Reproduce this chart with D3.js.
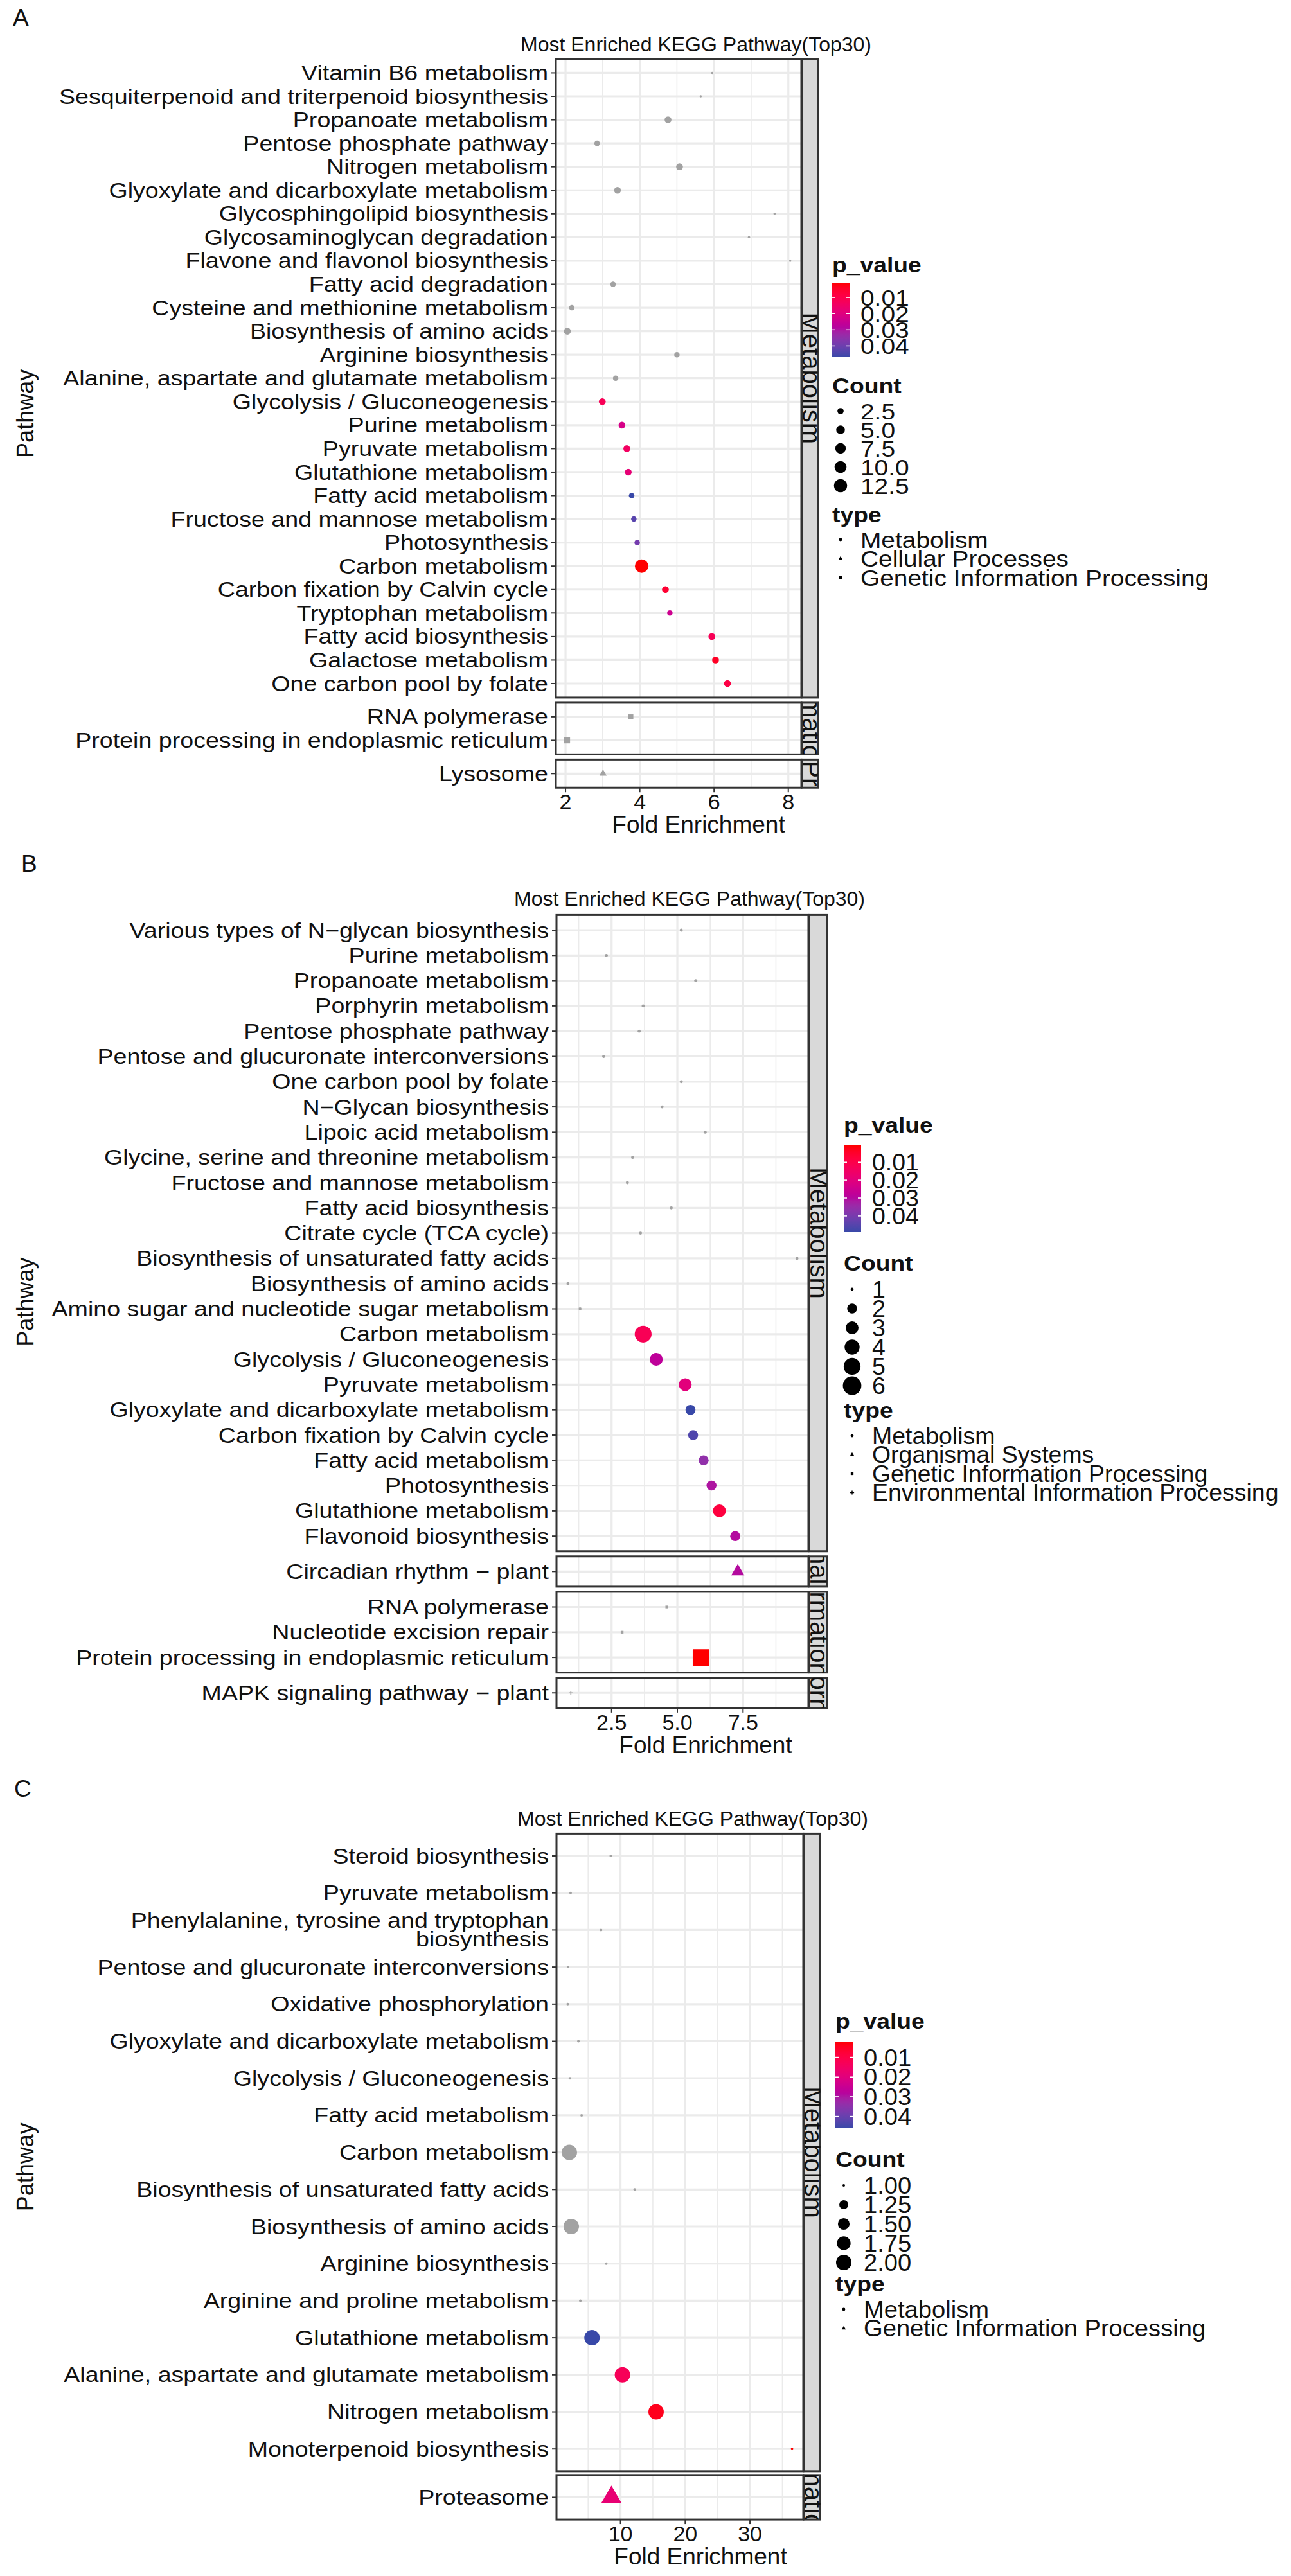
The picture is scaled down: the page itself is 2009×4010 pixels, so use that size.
<!DOCTYPE html>
<html><head><meta charset="utf-8">
<script src="https://cdn.jsdelivr.net/npm/d3@7"></script>
<style>
body{margin:0;background:#fff}
svg{display:block}
text{font-family:"Liberation Sans",Arial,Helvetica,sans-serif;fill:#111}
</style>
</head><body>
<svg id="c" width="2009" height="4010"></svg>
<script>
// ================= DATA =================
const chartTitle = "Most Enriched KEGG Pathway(Top30)";

// ---- Panel A ----
const A_pathways = ["Vitamin B6 metabolism","Sesquiterpenoid and triterpenoid biosynthesis","Propanoate metabolism","Pentose phosphate pathway","Nitrogen metabolism","Glyoxylate and dicarboxylate metabolism","Glycosphingolipid biosynthesis","Glycosaminoglycan degradation","Flavone and flavonol biosynthesis","Fatty acid degradation","Cysteine and methionine metabolism","Biosynthesis of amino acids","Arginine biosynthesis","Alanine, aspartate and glutamate metabolism","Glycolysis / Gluconeogenesis","Purine metabolism","Pyruvate metabolism","Glutathione metabolism","Fatty acid metabolism","Fructose and mannose metabolism","Photosynthesis","Carbon metabolism","Carbon fixation by Calvin cycle","Tryptophan metabolism","Fatty acid biosynthesis","Galactose metabolism","One carbon pool by folate","RNA polymerase","Protein processing in endoplasmic reticulum","Lysosome"];
const A_fold = [5.95,5.64,4.76,2.85,5.07,3.4,7.63,6.94,8.05,3.28,2.17,2.05,5.0,3.35,2.99,3.52,3.65,3.69,3.78,3.84,3.93,4.05,4.69,4.81,5.94,6.04,6.36,3.76,2.04,3.01];
const A_count = [1,1,3,2,3,3,1,1,1,2,2,3,2,2,3,3,3,3,2,2,2,13,3,2,3,3,3,2,3,2];
const A_pvalue = [null,null,null,null,null,null,null,null,null,null,null,null,null,null,0.012,0.022,0.014,0.018,0.047,0.043,0.039,0.0008,0.006,0.024,0.012,0.004,0.009,null,null,null];
const A_type = Array(27).fill("Metabolism").concat(["Genetic Information Processing","Genetic Information Processing","Cellular Processes"]);
const A_facets = ["Metabolism","Genetic Information Processing","Cellular Processes"];
const A_typeLevels = ["Metabolism","Cellular Processes","Genetic Information Processing"];
const A_xticks = [2,4,6,8];
const A_countBreaks = [2.5,5,7.5,10,12.5];

// ---- Panel B ----
const B_pathways = ["Various types of N\u2212glycan biosynthesis","Purine metabolism","Propanoate metabolism","Porphyrin metabolism","Pentose phosphate pathway","Pentose and glucuronate interconversions","One carbon pool by folate","N\u2212Glycan biosynthesis","Lipoic acid metabolism","Glycine, serine and threonine metabolism","Fructose and mannose metabolism","Fatty acid biosynthesis","Citrate cycle (TCA cycle)","Biosynthesis of unsaturated fatty acids","Biosynthesis of amino acids","Amino sugar and nucleotide sugar metabolism","Carbon metabolism","Glycolysis / Gluconeogenesis","Pyruvate metabolism","Glyoxylate and dicarboxylate metabolism","Carbon fixation by Calvin cycle","Fatty acid metabolism","Photosynthesis","Glutathione metabolism","Flavonoid biosynthesis","Circadian rhythm \u2212 plant","RNA polymerase","Nucleotide excision repair","Protein processing in endoplasmic reticulum","MAPK signaling pathway \u2212 plant"];
const B_fold = [5.15,2.3,5.7,3.7,3.55,2.2,5.15,4.42,6.06,3.3,3.1,4.77,3.6,9.55,0.84,1.3,3.7,4.2,5.3,5.5,5.6,6.0,6.3,6.6,7.2,7.3,4.6,2.9,5.9,0.95];
const B_count = [1,1,1,1,1,1,1,1,1,1,1,1,1,1,1,1,5,3,3,2,2,2,2,3,2,2,1,1,6,1];
const B_pvalue = [null,null,null,null,null,null,null,null,null,null,null,null,null,null,null,null,0.012,0.028,0.02,0.049,0.046,0.036,0.031,0.008,0.03,0.03,null,null,0.0006,null];
const B_type = Array(25).fill("Metabolism").concat(["Organismal Systems","Genetic Information Processing","Genetic Information Processing","Genetic Information Processing","Environmental Information Processing"]);
const B_facets = ["Metabolism","Organismal Systems","Genetic Information Processing","Environmental Information Processing"];
const B_typeLevels = ["Metabolism","Organismal Systems","Genetic Information Processing","Environmental Information Processing"];
const B_xticks = [2.5,5,7.5];
const B_countBreaks = [1,2,3,4,5,6];

// ---- Panel C ----
const C_pathways = ["Steroid biosynthesis","Pyruvate metabolism","Phenylalanine, tyrosine and tryptophan biosynthesis","Pentose and glucuronate interconversions","Oxidative phosphorylation","Glyoxylate and dicarboxylate metabolism","Glycolysis / Gluconeogenesis","Fatty acid metabolism","Carbon metabolism","Biosynthesis of unsaturated fatty acids","Biosynthesis of amino acids","Arginine biosynthesis","Arginine and proline metabolism","Glutathione metabolism","Alanine, aspartate and glutamate metabolism","Nitrogen metabolism","Monoterpenoid biosynthesis","Proteasome"];
const C_fold = [8.5,2.3,7.0,1.9,1.85,3.5,2.2,4.0,2.1,12.2,2.4,7.8,3.8,5.6,10.3,15.5,36.5,8.6];
const C_count = [1,1,1,1,1,1,1,1,2,1,2,1,1,2,2,2,1,2];
const C_pvalue = [null,null,null,null,null,null,null,null,null,null,null,null,null,0.046,0.013,0.004,0.002,0.018];
const C_type = Array(17).fill("Metabolism").concat(["Genetic Information Processing"]);
const C_facets = ["Metabolism","Genetic Information Processing"];
const C_typeLevels = ["Metabolism","Genetic Information Processing"];
const C_xticks = [10,20,30];
const C_countBreaks = [1,1.25,1.5,1.75,2];

const pBreaks = [0.01,0.02,0.03,0.04];

// ================= DRAWING =================
const svg = d3.select("#c");
svg.append("rect").attr("width",2009).attr("height",4010).attr("fill","#fff");
const defs = svg.append("defs");
const NA_COLOR = "#a2a2a2";
const GRID = "#ebebeb";
const DARK = "#333333";

function wrapLabel(s, width){
  if (s.length <= width) return [s];
  const words = s.split(" "); const lines = []; let cur = "";
  for (const w of words){
    if (cur && (cur + " " + w).length > width){ lines.push(cur); cur = w; }
    else cur = cur ? cur + " " + w : w;
  }
  if (cur) lines.push(cur);
  return lines;
}
function shapePath(idx, r){
  if (idx === 0) return d3.symbol(d3.symbolCircle, Math.PI*r*r)();
  if (idx === 1) return d3.symbol(d3.symbolTriangle, 3.0*r*r)();
  if (idx === 2) return d3.symbol(d3.symbolSquare, 3.2*r*r)();
  const s = r*1.3; return `M${-s},0H${s}M0,${-s}V${s}`;
}

function drawFigure(cfg, id){
  const g = svg.append("g");
  g.append("text").attr("x",cfg.letterX).attr("y",cfg.letterY).attr("font-size",37).text(cfg.letter);
  g.append("text").attr("x",cfg.titleX).attr("y",cfg.titleY).attr("font-size",32).text(chartTitle);

  // facets (free y space)
  let top = cfg.panelTop;
  const facets = cfg.facets.map(f=>{
    const rows = cfg.pathways.filter((p,i)=>cfg.type[i]===f);
    const h = (rows.length - 1 + 1.2) * cfg.rowStep;
    const y = d3.scalePoint().domain(rows).range([top, top+h]).padding(0.6);
    const o = {name:f, rows, top, bottom: top+h, y};
    top += h + cfg.facetGap;
    return o;
  });
  const bottom = facets[facets.length-1].bottom;

  const ext = d3.extent(cfg.fold); const pad = (ext[1]-ext[0])*0.05;
  const x = d3.scaleLinear().domain([ext[0]-pad, ext[1]+pad]).range([cfg.panelLeft, cfg.panelRight]);
  const dom = x.domain();
  const step = cfg.xticks[1]-cfg.xticks[0];
  const minor = [cfg.xticks[0]-step/2].concat(cfg.xticks.map(t=>t+step/2)).filter(v=>v>dom[0]&&v<dom[1]);

  const pVals = cfg.pvalue.filter(v=>v!==null);
  const pDom = d3.extent(pVals);
  const color = d3.scaleLinear().domain(pDom).range(["#ff0000","#3848a8"]).interpolate(d3.interpolateHcl);
  const cExt = d3.extent(cfg.count);
  const size = d3.scaleSqrt().domain([0, cExt[1]-cExt[0]]).range([cfg.k, 6*cfg.k]);
  const rOf = c => size(Math.max(0, c - cExt[0]));
  const typeIdx = t => cfg.typeLevels.indexOf(t);

  facets.forEach((f,fi)=>{
    const pg = g.append("g");
    pg.append("rect").attr("x",cfg.panelLeft).attr("y",f.top).attr("width",cfg.panelRight-cfg.panelLeft).attr("height",f.bottom-f.top).attr("fill","#fff");
    pg.selectAll(null).data(minor).join("line")
      .attr("x1",d=>x(d)).attr("x2",d=>x(d)).attr("y1",f.top).attr("y2",f.bottom)
      .attr("stroke",GRID).attr("stroke-width",1.6);
    pg.selectAll(null).data(cfg.xticks).join("line")
      .attr("x1",d=>x(d)).attr("x2",d=>x(d)).attr("y1",f.top).attr("y2",f.bottom)
      .attr("stroke",GRID).attr("stroke-width",3.2);
    pg.selectAll(null).data(f.rows).join("line")
      .attr("x1",cfg.panelLeft).attr("x2",cfg.panelRight).attr("y1",d=>f.y(d)).attr("y2",d=>f.y(d))
      .attr("stroke",GRID).attr("stroke-width",3.2);
    // points
    const pts = cfg.pathways.map((p,i)=>({p, v:cfg.fold[i], c:cfg.count[i], pv:cfg.pvalue[i], t:cfg.type[i]})).filter(d=>d.t===f.name);
    pts.forEach(d=>{
      const si = typeIdx(d.t); const col = d.pv===null ? NA_COLOR : color(d.pv);
      const path = pg.append("path").attr("d", shapePath(si, rOf(d.c)))
        .attr("transform",`translate(${x(d.v)},${f.y(d.p)})`);
      if (si===3) path.attr("fill","none").attr("stroke",col).attr("stroke-width",1.6);
      else path.attr("fill",col);
    });
    // border
    pg.append("rect").attr("x",cfg.panelLeft).attr("y",f.top).attr("width",cfg.panelRight-cfg.panelLeft).attr("height",f.bottom-f.top)
      .attr("fill","none").attr("stroke",DARK).attr("stroke-width",3);
    // strip (text larger than strip, clipped as in the original)
    const sx = cfg.panelRight+1.5, sw = cfg.stripW;
    const cid = `clip_${id}_${fi}`;
    defs.append("clipPath").attr("id",cid).append("rect").attr("x",sx).attr("y",f.top).attr("width",sw).attr("height",f.bottom-f.top);
    pg.append("rect").attr("x",sx).attr("y",f.top).attr("width",sw).attr("height",f.bottom-f.top).attr("fill","#d9d9d9").attr("stroke",DARK).attr("stroke-width",3);
    pg.append("g").attr("clip-path",`url(#${cid})`).append("text")
      .attr("transform",`translate(${sx+sw/2},${(f.top+f.bottom)/2}) rotate(90)`)
      .attr("text-anchor","middle").attr("dy","0.3em").attr("font-size",40).attr("fill","#1a1a1a").text(f.name);
    // y labels + ticks
    f.rows.forEach(r=>{
      const yy = f.y(r);
      pg.append("line").attr("x1",cfg.panelLeft-7).attr("x2",cfg.panelLeft).attr("y1",yy).attr("y2",yy).attr("stroke",DARK).attr("stroke-width",2);
      const lines = wrapLabel(r, 50);
      lines.forEach((ln,li)=>{
        const off = (li - (lines.length-1)/2) * 29;
        pg.append("text").attr("transform",`translate(${cfg.panelLeft-12},${yy+off}) scale(1.14,1)`)
          .attr("text-anchor","end").attr("dy","0.35em").attr("font-size",33).text(ln);
      });
    });
  });

  // x axis
  cfg.xticks.forEach(t=>{
    g.append("line").attr("x1",x(t)).attr("x2",x(t)).attr("y1",bottom).attr("y2",bottom+7).attr("stroke",DARK).attr("stroke-width",2);
    g.append("text").attr("x",x(t)).attr("y",bottom+34).attr("text-anchor","middle").attr("font-size",34).text(cfg.xfmt(t));
  });
  g.append("text").attr("x",cfg.xTitleX).attr("y",bottom+70).attr("text-anchor","middle").attr("font-size",37).text("Fold Enrichment");
  g.append("text").attr("transform",`translate(${cfg.yTitleX},${(cfg.panelTop+bottom)/2-15}) rotate(-90)`)
    .attr("text-anchor","middle").attr("font-size",36).text("Pathway");

  // legend
  const L = cfg.legend; const lx = L.x; const ls = L.labelScale;
  const ltitle = (y,t)=> g.append("text").attr("transform",`translate(${lx},${y}) scale(1.13,1)`)
      .attr("font-family","'Liberation Serif','Times New Roman',serif").attr("font-weight","bold").attr("font-size",33).text(t);
  const llabel = (y,t)=> g.append("text").attr("transform",`translate(${lx+44},${y}) scale(${ls},1)`)
      .attr("dy","0.36em").attr("font-size",36).text(t);
  ltitle(L.titleY,"p_value");
  const gid = `grad_${id}`;
  const grad = defs.append("linearGradient").attr("id",gid).attr("x1",0).attr("x2",0).attr("y1",0).attr("y2",1);
  d3.range(0,1.0001,0.05).forEach(t=>{
    grad.append("stop").attr("offset",t).attr("stop-color",color(pDom[0]+t*(pDom[1]-pDom[0])));
  });
  g.append("rect").attr("x",lx).attr("y",L.barTop).attr("width",27).attr("height",L.barBottom-L.barTop).attr("fill",`url(#${gid})`);
  const by = d3.scaleLinear().domain(pDom).range([L.barTop,L.barBottom]);
  pBreaks.filter(b=>b>=pDom[0]&&b<=pDom[1]).forEach(b=>{
    g.append("line").attr("x1",lx).attr("x2",lx+5).attr("y1",by(b)).attr("y2",by(b)).attr("stroke","#fff").attr("stroke-width",1.5);
    g.append("line").attr("x1",lx+22).attr("x2",lx+27).attr("y1",by(b)).attr("y2",by(b)).attr("stroke","#fff").attr("stroke-width",1.5);
    llabel(by(b), b.toFixed(2));
  });
  ltitle(L.countTitleY,"Count");
  cfg.countBreaks.forEach((c,i)=>{
    const yy = L.countY0 + i*L.countStep;
    g.append("path").attr("d",shapePath(0, rOf(c))).attr("transform",`translate(${lx+13},${yy})`).attr("fill","#000");
    llabel(yy, cfg.cfmt(c));
  });
  ltitle(L.typeTitleY,"type");
  cfg.typeLevels.forEach((t,i)=>{
    const yy = L.typeY0 + i*L.typeStep;
    const p = g.append("path").attr("d",shapePath(i, 2.4)).attr("transform",`translate(${lx+13},${yy})`);
    if (i===3) p.attr("fill","none").attr("stroke","#000").attr("stroke-width",1.5); else p.attr("fill","#000");
    llabel(yy, t);
  });
}

drawFigure({
  letter:"A", letterX:20, letterY:40, titleX:810, titleY:80,
  pathways:A_pathways, fold:A_fold, count:A_count, pvalue:A_pvalue, type:A_type,
  facets:A_facets, typeLevels:A_typeLevels, xticks:A_xticks, xfmt:d=>String(d),
  countBreaks:A_countBreaks, cfmt:d=>d.toFixed(1), k:1.75,
  panelLeft:865, panelRight:1247, stripW:24, panelTop:91.5, rowStep:36.56, facetGap:8,
  xTitleX:1087, yTitleX:52,
  legend:{x:1295, labelScale:1.08, titleY:424, barTop:440, barBottom:556, countTitleY:612, countY0:640, countStep:29, typeTitleY:813, typeY0:840, typeStep:29.5}
}, "A");

drawFigure({
  letter:"B", letterX:33, letterY:1357, titleX:800, titleY:1410,
  pathways:B_pathways, fold:B_fold, count:B_count, pvalue:B_pvalue, type:B_type,
  facets:B_facets, typeLevels:B_typeLevels, xticks:B_xticks, xfmt:d=>d.toFixed(1),
  countBreaks:B_countBreaks, cfmt:d=>String(d), k:2.4,
  panelLeft:866, panelRight:1258, stripW:27, panelTop:1424.4, rowStep:39.3, facetGap:8,
  xTitleX:1098, yTitleX:52,
  legend:{x:1313, labelScale:1.04, titleY:1763, barTop:1783, barBottom:1918, countTitleY:1978, countY0:2007, countStep:30, typeTitleY:2207, typeY0:2235, typeStep:29.5}
}, "B");

drawFigure({
  letter:"C", letterX:22, letterY:2797, titleX:805, titleY:2842,
  pathways:C_pathways, fold:C_fold, count:C_count, pvalue:C_pvalue, type:C_type,
  facets:C_facets, typeLevels:C_typeLevels, xticks:C_xticks, xfmt:d=>String(d),
  countBreaks:C_countBreaks, cfmt:d=>d.toFixed(2), k:2.0,
  panelLeft:866, panelRight:1250, stripW:25, panelTop:2854.4, rowStep:57.7, facetGap:6,
  xTitleX:1090, yTitleX:52,
  legend:{x:1300, labelScale:1.06, titleY:3158, barTop:3178, barBottom:3313, countTitleY:3373, countY0:3402, countStep:30, typeTitleY:3567, typeY0:3595, typeStep:29.5}
}, "C");
</script>
</body></html>
